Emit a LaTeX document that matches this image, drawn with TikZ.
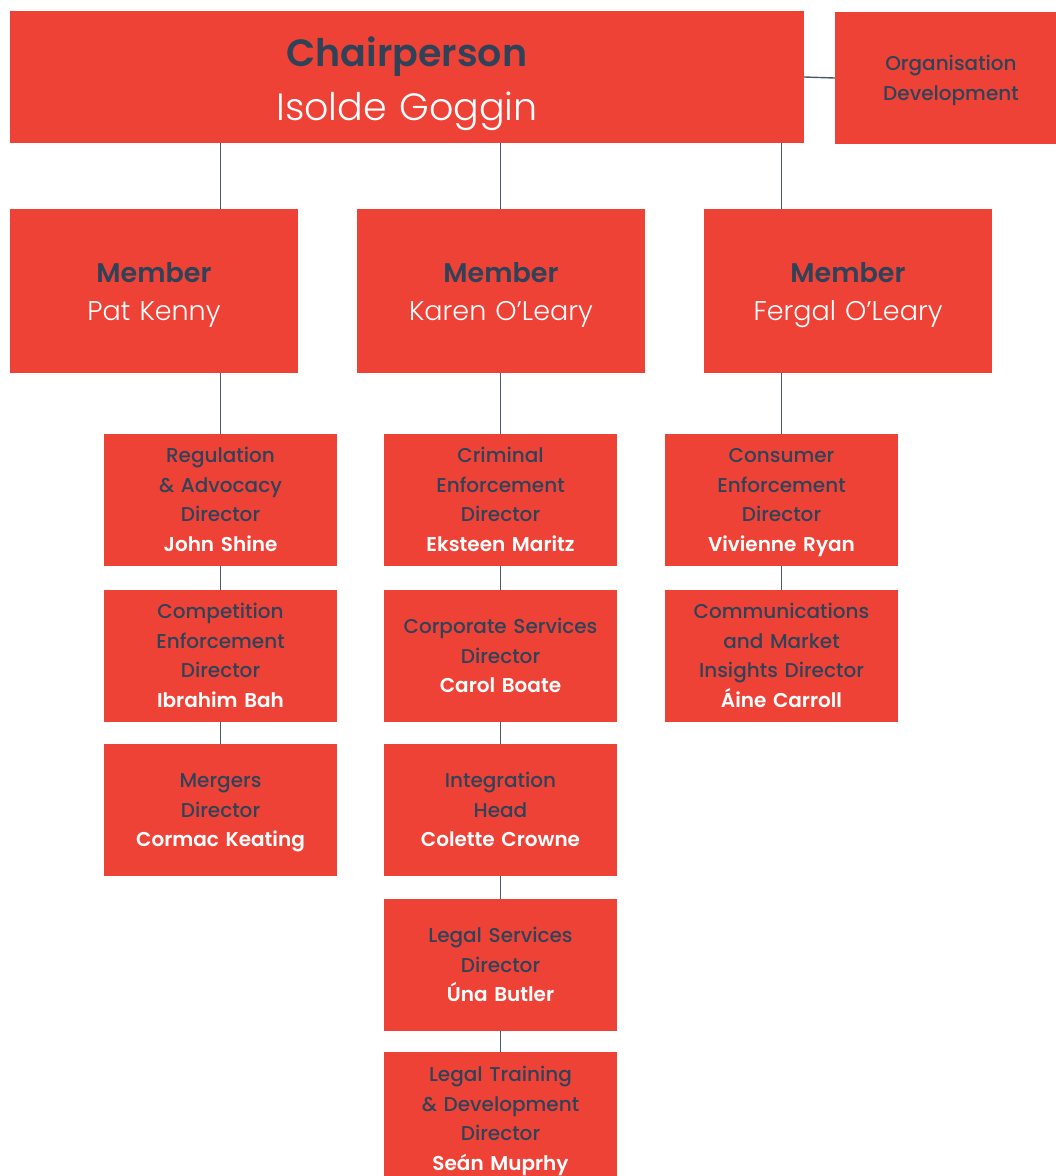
\documentclass[tikz,border=0pt]{standalone}
\usepackage{fontspec}
\setmainfont{Poppins}
\newfontfamily\medfont{Poppins Medium}
\newfontfamily\semifont{Poppins SemiBold}
\newfontfamily\lightfont{Poppins Light}
\definecolor{ccpcred}{HTML}{EF4237}
\definecolor{ccpcdark}{HTML}{2F4257}
\definecolor{ccpcline}{HTML}{4A5A6E}
\newcommand{\unitpost}[2]{#1\\\semifont\color{white}#2}
\begin{document}
\begin{tikzpicture}
  [x=1pt,y=-1pt,
   every node/.style={fill=ccpcred,inner sep=0pt,align=center,text=ccpcdark,text height=0pt,
     font=\medfont\fontsize{20}{29.5}\selectfont},
   unitbox/.style={minimum width=233pt,minimum height=132pt,text width=233pt,text depth=#1},
   unitbox/.default=74.5pt,
   memberbox/.style={minimum width=288pt,minimum height=164pt,text width=288pt,text depth=18pt,
     font=\fontsize{27}{38}\selectfont},
   link/.style={draw=ccpcline,line width=1.4pt}]
  \useasboundingbox (0,0) rectangle (1056,1176);
  \clip (0,0) rectangle (1056,1176);
  % board
  \node (chair) [minimum width=794pt,minimum height=132pt,text width=794pt,text depth=22pt,
    font=\fontsize{38}{54}\selectfont]
    at (407,77) {{\semifont Chairperson}\\{\lightfont\color{white}Isolde Goggin}};
  \node (orgdev) [minimum width=232pt,minimum height=132pt,text width=232pt,text depth=15pt] at (951,78)
    {Organisation\\Development};
  \node (m1) [memberbox] at (154,291)
    {{\semifont Member}\\{\lightfont\color{white}Pat Kenny}};
  \node (m2) [memberbox] at (501,291)
    {{\semifont Member}\\{\lightfont\color{white}Karen O’Leary}};
  \node (m3) [memberbox] at (848,291)
    {{\semifont Member}\\{\lightfont\color{white}Fergal O’Leary}};
  % divisions
  \node (a1) [unitbox] at (220.5,500) {\unitpost{Regulation\\\& Advocacy\\Director}{John Shine}};
  \node (a2) [unitbox] at (220.5,656) {\unitpost{Competition\\Enforcement\\Director}{Ibrahim Bah}};
  \node (a3) [unitbox=45pt] at (220.5,810) {\unitpost{Mergers\\Director}{Cormac Keating}};
  \node (b1) [unitbox] at (500.5,500) {\unitpost{Criminal\\Enforcement\\Director}{Eksteen Maritz}};
  \node (b2) [unitbox=45pt] at (500.5,656) {\unitpost{Corporate Services\\Director}{Carol Boate}};
  \node (b3) [unitbox=45pt] at (500.5,810) {\unitpost{Integration\\Head}{Colette Crowne}};
  \node (b4) [unitbox=45pt] at (500.5,965) {\unitpost{Legal Services\\Director}{Úna Butler}};
  \node (b5) [unitbox,minimum height=134pt] at (500.5,1119) {\unitpost{Legal Training\\\& Development\\Director}{Seán Muprhy}};
  \node (c1) [unitbox] at (781.5,500) {\unitpost{Consumer\\Enforcement\\Director}{Vivienne Ryan}};
  \node (c2) [unitbox] at (781.5,656) {\unitpost{Communications\\and Market\\Insights Director}{Áine Carroll}};
  \draw [link] (chair.east) -- (orgdev.west);
  \foreach \col/\mem in {a1/m1,b1/m2,c1/m3}
    \draw [link] (chair.south -| \col.north) -- (\mem.north -| \col.north)
      (\mem.south -| \col.north) -- (\col.north);
 \foreach \from/\to in {a1/a2,a2/a3,b1/b2,b2/b3,b3/b4,b4/b5,c1/c2}
    \draw [link] (\from) -- (\to);
\end{tikzpicture}
\end{document}
